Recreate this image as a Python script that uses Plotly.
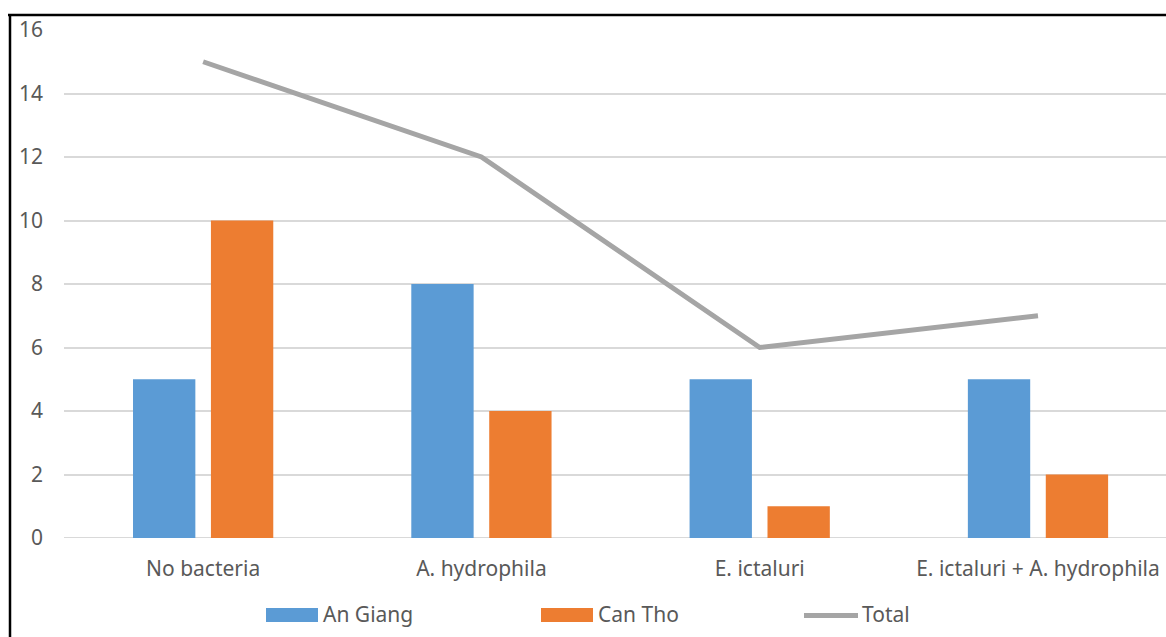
import plotly.graph_objects as go

categories = ["No bacteria", "A. hydrophila", "E. ictaluri", "E. ictaluri + A. hydrophila"]
an_giang = [5, 8, 5, 5]
can_tho = [10, 4, 1, 2]
total = [15, 12, 6, 7]
y_ticks = [0, 2, 4, 6, 8, 10, 12, 14, 16]

blue = "#5B9BD5"
orange = "#ED7D31"
gray = "#A5A5A5"
font_color = "#595959"
font_family = "Noto Sans, Open Sans, sans-serif"
font_size = 21

W, H = 1166, 637
M_L, M_R, M_T, M_B = 64, 0, 30, 99
PLOT_W = W - M_L - M_R
PLOT_H = H - M_T - M_B


def px_x(p):
    return (p - M_L) / PLOT_W


def px_y(p):
    return (H - M_B - p) / PLOT_H


x_pos = list(range(len(categories)))

fig = go.Figure()
fig.add_trace(go.Bar(x=x_pos, y=an_giang, name="An Giang",
                     marker=dict(color=blue, line=dict(width=0))))
fig.add_trace(go.Bar(x=x_pos, y=can_tho, name="Can Tho",
                     marker=dict(color=orange, line=dict(width=0))))
fig.add_trace(go.Scatter(x=x_pos, y=total, name="Total", mode="lines",
                         line=dict(color=gray, width=5)))

# Custom legend row: wide swatches, a stroke for the line series, labels
shapes = [
    dict(type="rect", xref="paper", yref="paper",
         x0=px_x(266), x1=px_x(318), y0=px_y(622), y1=px_y(608),
         fillcolor=blue, line=dict(width=0)),
    dict(type="rect", xref="paper", yref="paper",
         x0=px_x(541), x1=px_x(593), y0=px_y(622), y1=px_y(608),
         fillcolor=orange, line=dict(width=0)),
    dict(type="line", xref="paper", yref="paper",
         x0=px_x(804), x1=px_x(858), y0=px_y(615.5), y1=px_y(615.5),
         line=dict(color=gray, width=5)),
    # frame
    dict(type="line", xref="paper", yref="paper", x0=px_x(8), x1=1.0,
         y0=px_y(15), y1=px_y(15), line=dict(color="black", width=2.5)),
    dict(type="line", xref="paper", yref="paper", x0=px_x(10), x1=px_x(10),
         y0=px_y(14), y1=px_y(640), line=dict(color="black", width=2.5)),
    dict(type="line", xref="paper", yref="y", x0=0, x1=1, y0=0, y1=0,
         line=dict(color="#D9D9D9", width=2), layer="below"),
]

legend_labels = [("An Giang", 321), ("Can Tho", 596), ("Total", 860)]
annotations = [
    dict(text=t, xref="paper", yref="paper", x=px_x(xp), y=px_y(614),
         xanchor="left", yanchor="middle", showarrow=False,
         font=dict(family=font_family, size=font_size, color=font_color))
    for t, xp in legend_labels
]

fig.update_layout(
    width=W, height=H,
    margin=dict(l=M_L, r=M_R, t=M_T, b=M_B),
    paper_bgcolor="white", plot_bgcolor="white",
    barmode="group", bargap=0.44, bargroupgap=0.2,
    font=dict(family=font_family, size=font_size, color=font_color),
    showlegend=False,
    xaxis=dict(range=[-0.5, 3.46], tickvals=x_pos, ticktext=categories,
               showgrid=False, zeroline=False, showline=False, ticks="",
               ticklabelstandoff=16, tickfont=dict(size=font_size, color=font_color)),
    yaxis=dict(range=[0, 16], tickvals=y_ticks, showgrid=True, gridcolor="#D9D9D9",
               gridwidth=2, zeroline=False, showline=False, ticks="",
               ticklabelstandoff=20, tickfont=dict(size=font_size, color=font_color)),
    shapes=shapes,
    annotations=annotations,
)

fig.write_html("out.html")
